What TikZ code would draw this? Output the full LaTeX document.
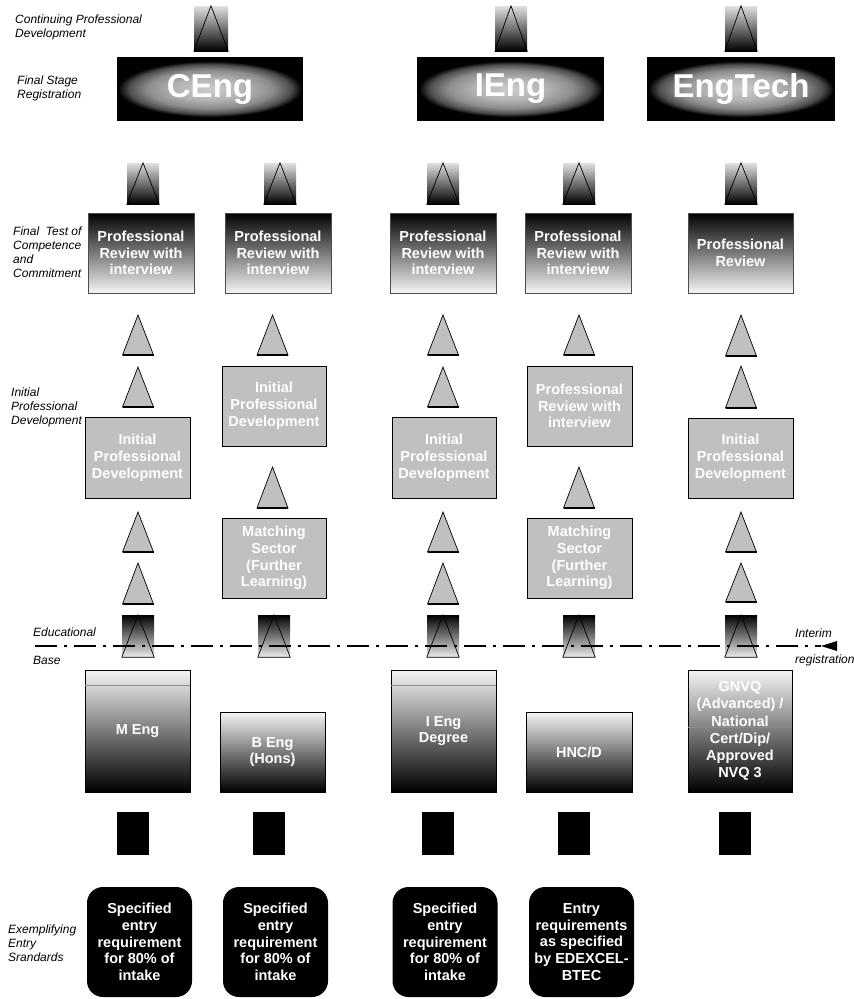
\documentclass[tikz,border=0pt]{standalone}
\usepackage{fontspec}
\setmainfont{Liberation Sans}
\usetikzlibrary{calc}
\definecolor{boxgray}{RGB}{192,192,192}
\pgfdeclareradialshading{regshade}{\pgfpoint{0bp}{0bp}}{color(0bp)=(black!20); color(10bp)=(black!30); color(17bp)=(black!45); color(22bp)=(black!70); color(25bp)=(black); color(50bp)=(black)}
\newcommand\graytri[4]{%
  \coordinate (#1) at (#2,{(#3+#4)/2});
  \filldraw[graytri] (#2-15.5,#4) -- (#2,#3) -- (#2+15.5,#4) -- cycle;
  \draw[line width=1.2pt] (#2-15.5,#4) -- (#2+15.5,#4);}
\newcommand\sqtri[1]{\draw[triline] (#1.south west) -- (#1.north) -- (#1.south east) -- cycle;}
\begin{document}
\begin{tikzpicture}[x=1pt,y=-1pt,
  lbl/.style={font=\itshape\fontsize{12}{14}\selectfont, align=left, anchor=west, inner sep=0pt},
  boxtxt/.style={text=white, font=\bfseries\fontsize{14.5}{16.8}\selectfont, align=center, inner sep=0pt},
  graybox/.style={boxtxt, draw=black, line width=0.8pt, fill=boxgray, minimum width=105pt, minimum height=80pt},
  reviewbox/.style={boxtxt, draw=black!70, line width=0.6pt, top color=black, bottom color=black!4, minimum width=106pt, minimum height=80pt},
  edubox/.style={boxtxt, draw=black, line width=0.8pt, top color=black!4, bottom color=black, minimum width=105pt},
  entrybox/.style={boxtxt, fill=black, rounded corners=16pt, minimum width=105pt, minimum height=110pt},
  upsq/.style={top color=black!12, bottom color=black, minimum width=32pt, minimum height=41pt, inner sep=0pt},
  downsq/.style={top color=black, bottom color=black!8, minimum width=32pt, minimum height=42pt, inner sep=0pt},
  triline/.style={draw=black, line width=0.7pt, line join=miter},
  graytri/.style={fill=boxgray, draw=black, line width=0.7pt, line join=miter},
  regbox/.style={fill=black, minimum width=187pt, minimum height=64pt, inner sep=0pt},
  regtxt/.style={text=white, font=\bfseries\fontsize{33}{36}\selectfont, inner sep=0pt},
  blacksq/.style={fill=black, minimum width=32pt, minimum height=43pt, inner sep=0pt},
  sepline/.style={draw=black!45, line width=0.6pt},
  baseline/.style={draw=black, line width=1.1pt, dash pattern=on 22pt off 7pt on 3pt off 7pt}
]
\useasboundingbox (0,0) rectangle (854,999);

% ---------- left labels ----------
\node[lbl] (lcpd) at (15,27) {Continuing Professional\\Development};
\node[lbl] (lfsr) at (17,88) {Final Stage\\Registration};
\node[lbl] (lft)  at (13,252) {Final\ \ Test of\\Competence\\and\\Commitment};
\node[lbl] (lipd) at (11,407.5) {Initial\\Professional\\Development};
\node[lbl] (led)  at (33,632) {Educational};
\node[lbl] (lbas) at (33,660) {Base};
\node[lbl] (lint) at (795,633) {Interim};
\node[lbl] (lreg) at (795,660) {registration};
\node[lbl] (lex)  at (8,943) {Exemplifying\\Entry\\Srandards};

% ---------- CPD arrows ----------
\node[upsq, minimum width=34pt, minimum height=45pt] (cpda) at (211,28.5) {};
\node[upsq, minimum height=45pt] (cpdb) at (511,28.5) {};
\node[upsq, minimum height=45pt] (cpdc) at (741,28.5) {};
\sqtri{cpda}\sqtri{cpdb}\sqtri{cpdc}

% ---------- registration ----------
\node[regbox, minimum width=186pt] (creg) at (210,89) {};
\node[regbox] (ireg) at (510.5,89) {};
\node[regbox, minimum width=188pt] (ereg) at (741,89) {};
\shade[shading=regshade] (creg.center) ellipse [x radius=92pt, y radius=28pt];
\shade[shading=regshade] (ireg.center) ellipse [x radius=92pt, y radius=28pt];
\shade[shading=regshade] (ereg.center) ellipse [x radius=93pt, y radius=28pt];
\node[regtxt] at (creg) {CEng};
\node[regtxt] at (ireg) {IEng};
\node[regtxt] at (ereg) {EngTech};

% ---------- row 2 arrows ----------
\node[upsq] (r2a) at (143,183.5) {};
\node[upsq] (r2b) at (280,183.5) {};
\node[upsq] (r2c) at (443,183.5) {};
\node[upsq] (r2d) at (579,183.5) {};
\node[upsq] (r2e) at (741,183.5) {};
\sqtri{r2a}\sqtri{r2b}\sqtri{r2c}\sqtri{r2d}\sqtri{r2e}

% ---------- professional review ----------
\node[reviewbox] (pr1) at (141,253) {Professional\\Review with\\interview};
\node[reviewbox] (pr2) at (278,253) {Professional\\Review with\\interview};
\node[reviewbox] (pr3) at (443,253) {Professional\\Review with\\interview};
\node[reviewbox] (pr4) at (578,253) {Professional\\Review with\\interview};
\node[reviewbox, minimum width=105pt] (pr5) at (740.5,253) {Professional\\Review};

% ---------- gray arrows ----------
\graytri{g1a}{138}{315}{355}
\graytri{g1b}{138}{367}{407}
\graytri{g1c}{138}{512}{552}
\graytri{g1d}{138}{563}{604}
\graytri{g2a}{272.5}{315}{355}
\graytri{g2b}{272.5}{467}{508}
\graytri{g3a}{443}{315}{355}
\graytri{g3b}{443}{367}{407}
\graytri{g3c}{443}{512}{552}
\graytri{g3d}{443}{563}{604}
\graytri{g4a}{579}{315}{355}
\graytri{g4b}{579}{467}{508}
\graytri{g5a}{741}{315}{356}
\graytri{g5b}{741}{366}{408}
\graytri{g5c}{741}{512}{552}
\graytri{g5d}{741}{563}{602}

% ---------- gray boxes ----------
\node[graybox, minimum height=81pt] (ipd1) at (137.5,457.5) {Initial\\Professional\\Development};
\node[graybox, minimum width=104pt] (ipd2) at (274,406) {Initial\\Professional\\Development};
\node[graybox, minimum width=104pt] (ms2) at (274,558) {Matching\\Sector\\(Further\\Learning)};
\node[graybox, minimum width=104pt, minimum height=81pt] (ipd3) at (444,457.5) {Initial\\Professional\\Development};
\node[graybox] (pri4) at (579.5,406) {Professional\\Review with\\interview};
\node[graybox] (ms4) at (579.5,558) {Matching\\Sector\\(Further\\Learning)};
\node[graybox] (ipd5) at (740.5,458) {Initial\\Professional\\Development};

% ---------- educational base arrows ----------
\node[downsq] (eb1) at (138,636) {};
\node[downsq] (eb2) at (274,636) {};
\node[downsq] (eb3) at (443,636) {};
\node[downsq] (eb4) at (579,636) {};
\node[downsq] (eb5) at (741,636) {};
\sqtri{eb1}\sqtri{eb2}\sqtri{eb3}\sqtri{eb4}\sqtri{eb5}

% dash-dot educational base line
\coordinate (lstart) at (35,646);
\coordinate (ltip) at (821,646);
\draw[baseline] (lstart) -- (ltip);
\fill[black] (ltip) -- ++(16,-5) -- ++(0,10) -- cycle;

% ---------- educational boxes ----------
\node[edubox, minimum height=122pt] (meng) at (137.5,731) {M Eng};
\node[edubox, minimum height=80pt] (beng) at (272.5,752) {B Eng\\(Hons)};
\node[edubox, minimum height=122pt] (ieng) at (443.5,731) {I Eng\\Degree};
\node[edubox, minimum height=80pt, minimum width=106pt] (hnc) at (579,752) {HNC/D};
\node[edubox, minimum height=122pt, minimum width=104pt, font=\bfseries\fontsize{14.5}{17.2}\selectfont] (gnvq) at (740,731) {GNVQ\\(Advanced) /\\National\\Cert/Dip/\\Approved\\NVQ 3};
\draw[sepline] ($(meng.north west)+(0.5,16)$) -- ($(meng.north east)+(-0.5,16)$);
\draw[sepline] ($(ieng.north west)+(0.5,16)$) -- ($(ieng.north east)+(-0.5,16)$);
\draw[sepline] ($(gnvq.west)+(0.5,-4)$) -- ($(gnvq.east)+(-0.5,-4)$);

% ---------- black squares ----------
\node[blacksq] (bs1) at (133,833.5) {};
\node[blacksq] (bs2) at (269,833.5) {};
\node[blacksq] (bs3) at (438,833.5) {};
\node[blacksq] (bs4) at (574,833.5) {};
\node[blacksq] (bs5) at (735,833.5) {};

% ---------- entry requirement boxes ----------
\node[entrybox] (en1) at (139.5,942) {Specified\\entry\\requirement\\for 80\% of\\intake};
\node[entrybox] (en2) at (275.5,942) {Specified\\entry\\requirement\\for 80\% of\\intake};
\node[entrybox] (en3) at (445,942) {Specified\\entry\\requirement\\for 80\% of\\intake};
\node[entrybox] (en4) at (581.5,942) {Entry\\requirements\\as specified\\by EDEXCEL-\\BTEC};
\end{tikzpicture}
\end{document}
